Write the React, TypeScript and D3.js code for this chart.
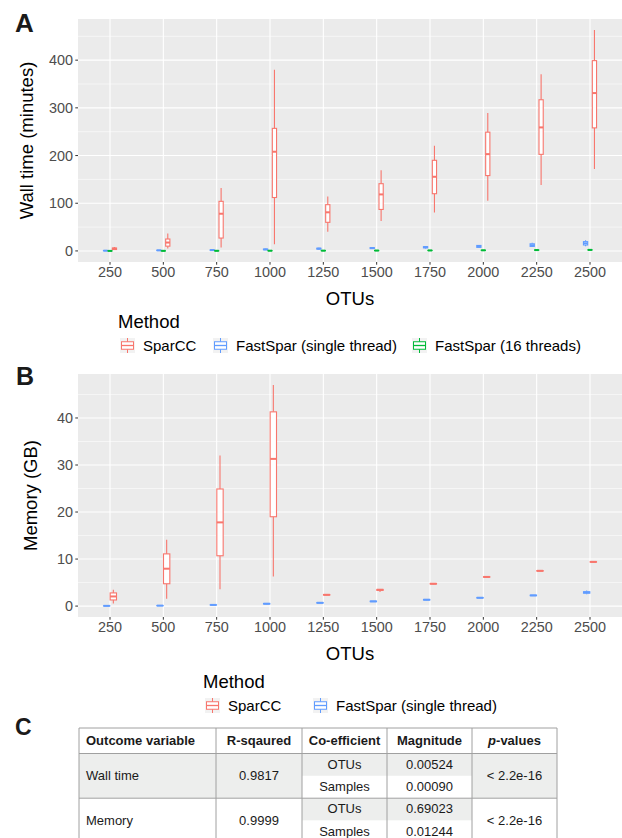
import * as d3 from "d3";

// categories on the x axis
const otus = ["250", "500", "750", "1000", "1250", "1500", "1750", "2000", "2250", "2500"];

// five-number summaries per OTU count: [lower whisker, q1, median, q3, upper whisker]
const timeSparCC = [
  [2, 3, 5, 6, 8],
  [5, 10, 17.6, 25, 36.5],
  [7, 27, 78, 104, 132],
  [14, 112, 208, 257, 380],
  [40, 60, 81, 97, 114],
  [63, 87, 118.5, 141, 169],
  [80.7, 120, 155.5, 190, 220.6],
  [105, 158, 203, 249, 289],
  [138, 202.5, 259, 317, 370.6],
  [172, 258, 331, 399, 463],
];
const timeFastSparSingle = [
  [0.2, 0.4, 0.6, 0.8, 1.0],
  [0.6, 0.9, 1.2, 1.5, 1.9],
  [1.0, 1.4, 1.8, 2.2, 2.7],
  [2.0, 2.6, 3.2, 3.8, 4.5],
  [3.0, 4.0, 4.8, 5.6, 6.5],
  [4.0, 5.0, 6.0, 7.0, 8.5],
  [5.0, 6.5, 7.8, 9.0, 10.5],
  [6.5, 7.5, 9.5, 11.5, 12.5],
  [8.0, 9.5, 12.0, 15.0, 17.0],
  [10.0, 12.5, 16.0, 19.5, 22.5],
];
const timeFastSpar16 = [
  [0.05, 0.08, 0.1, 0.12, 0.15],
  [0.1, 0.15, 0.2, 0.25, 0.3],
  [0.2, 0.25, 0.3, 0.35, 0.4],
  [0.35, 0.45, 0.5, 0.55, 0.65],
  [0.45, 0.55, 0.6, 0.7, 0.8],
  [0.6, 0.7, 0.8, 0.9, 1.0],
  [0.8, 0.9, 1.0, 1.1, 1.25],
  [1.0, 1.2, 1.3, 1.4, 1.6],
  [1.4, 1.6, 1.8, 2.0, 2.2],
  [1.8, 2.0, 2.2, 2.4, 2.7],
];
const memSparCC = [
  [0.55, 1.3, 2.05, 2.8, 3.5],
  [1.55, 4.75, 7.95, 11.1, 14.1],
  [3.6, 10.7, 17.8, 24.9, 32],
  [6.3, 19, 31.3, 41.3, 47],
  [2.3, 2.35, 2.4, 2.45, 2.5],
  [3.0, 3.35, 3.45, 3.55, 3.65],
  [4.65, 4.7, 4.75, 4.8, 4.85],
  [6.1, 6.15, 6.2, 6.25, 6.3],
  [7.4, 7.45, 7.5, 7.55, 7.6],
  [9.3, 9.35, 9.4, 9.45, 9.5],
];
const memFastSparSingle = [
  [0.03, 0.04, 0.05, 0.06, 0.07],
  [0.07, 0.09, 0.1, 0.11, 0.13],
  [0.2, 0.23, 0.25, 0.27, 0.3],
  [0.4, 0.45, 0.5, 0.55, 0.6],
  [0.6, 0.65, 0.7, 0.75, 0.8],
  [0.9, 0.95, 1.0, 1.05, 1.1],
  [1.25, 1.3, 1.35, 1.4, 1.45],
  [1.67, 1.72, 1.77, 1.82, 1.87],
  [2.17, 2.22, 2.27, 2.32, 2.37],
  [2.5, 2.75, 2.9, 3.05, 3.3],
];

const timeTicks = [0, 100, 200, 300, 400];
const timeMinor = [50, 150, 250, 350, 450];
const memTicks = [0, 10, 20, 30, 40];
const memMinor = [5, 15, 25, 35, 45];

const colors: Record<string, string> = {
  SparCC: "#F8766D",
  "FastSpar (single thread)": "#619CFF",
  "FastSpar (16 threads)": "#00BA38",
};

// table content
const tableHeader = ["Outcome variable", "R-sqaured", "Co-efficient", "Magnitude", "p-values"];
const outcomes = ["Wall time", "Memory"];
const rSquared = ["0.9817", "0.9999"];
const coefficients = ["OTUs", "Samples"];
const magnitudes = [
  ["0.00524", "0.00090"],
  ["0.69023", "0.01244"],
];
const pValues = ["< 2.2e-16", "< 2.2e-16"];

const FONT = "'Liberation Sans', Arial, Helvetica, sans-serif";
const PANEL_L = 78;
const PANEL_R = 622;

type Series = { name: string; data: number[][] };

function BoxPanel(props: {
  top: number;
  bottom: number;
  domain: [number, number];
  ticks: number[];
  minor: number[];
  series: Series[];
  yTitle: string;
  yTitleX: number;
}) {
  const { top, bottom, domain, ticks, minor, series, yTitle, yTitleX } = props;
  const x = d3.scalePoint<string>().domain(otus).range([PANEL_L, PANEL_R]).padding(0.6);
  const step = x.step();
  const dodge = d3
    .scaleBand<string>()
    .domain(series.map((s) => s.name))
    .range([-0.125 * step, 0.125 * step]);
  const y = d3.scaleLinear().domain(domain).range([bottom, top]);
  const bw = dodge.bandwidth() * 0.95;

  return (
    <g>
      <rect x={PANEL_L} y={top} width={PANEL_R - PANEL_L} height={bottom - top} fill="#EBEBEB" />
      {minor.map((t) => (
        <line key={"m" + t} x1={PANEL_L} x2={PANEL_R} y1={y(t)} y2={y(t)} stroke="#fff" strokeWidth={0.55} />
      ))}
      {ticks.map((t) => (
        <line key={"g" + t} x1={PANEL_L} x2={PANEL_R} y1={y(t)} y2={y(t)} stroke="#fff" strokeWidth={1.1} />
      ))}
      {otus.map((o) => (
        <line key={"v" + o} x1={x(o)} x2={x(o)} y1={top} y2={bottom} stroke="#fff" strokeWidth={1.1} />
      ))}
      {series.map((s) =>
        s.data.map((d, i) => {
          const cx = (x(otus[i]) as number) + (dodge(s.name) as number) + dodge.bandwidth() / 2;
          const c = colors[s.name];
          const [lo, q1, med, q3, hi] = d;
          return (
            <g key={s.name + i}>
              <line x1={cx} x2={cx} y1={y(hi)} y2={y(q3)} stroke={c} strokeWidth={1.1} />
              <line x1={cx} x2={cx} y1={y(q1)} y2={y(lo)} stroke={c} strokeWidth={1.1} />
              <rect
                x={cx - bw / 2}
                y={y(q3)}
                width={bw}
                height={Math.max(0.01, y(q1) - y(q3))}
                fill="#fff"
                stroke={c}
                strokeWidth={1.1}
              />
              <line x1={cx - bw / 2} x2={cx + bw / 2} y1={y(med)} y2={y(med)} stroke={c} strokeWidth={2} />
            </g>
          );
        })
      )}
      {ticks.map((t) => (
        <g key={"t" + t}>
          <line x1={PANEL_L - 2.7} x2={PANEL_L} y1={y(t)} y2={y(t)} stroke="#333" strokeWidth={1} />
          <text x={PANEL_L - 5} y={y(t)} dy="0.36em" textAnchor="end" fontSize={14.4} fill="#4D4D4D">
            {t}
          </text>
        </g>
      ))}
      {otus.map((o) => (
        <g key={"x" + o}>
          <line x1={x(o)} x2={x(o)} y1={bottom} y2={bottom + 2.7} stroke="#333" strokeWidth={1} />
          <text x={x(o)} y={bottom + 15} textAnchor="middle" fontSize={14.4} fill="#4D4D4D">
            {o}
          </text>
        </g>
      ))}
      <text x={(PANEL_L + PANEL_R) / 2} y={bottom + 43} textAnchor="middle" fontSize={18.5} fill="#000">
        OTUs
      </text>
      <text
        transform={`translate(${yTitleX},${(top + bottom) / 2}) rotate(-90)`}
        textAnchor="middle"
        fontSize={18.5}
        fill="#000"
      >
        {yTitle}
      </text>
    </g>
  );
}

function Legend(props: { x: number; y: number; items: string[]; gaps: number[] }) {
  const { x, y, items, gaps } = props;
  let cur = x + 2;
  return (
    <g>
      <text x={x} y={y} fontSize={18.5} fill="#000">
        Method
      </text>
      {items.map((name, i) => {
        const kx = cur;
        cur += gaps[i];
        const ky = y + 10;
        const c = colors[name];
        return (
          <g key={name}>
            <rect x={kx} y={ky} width={15} height={15} fill="#F2F2F2" />
            <line x1={kx + 7.5} x2={kx + 7.5} y1={ky} y2={ky + 15} stroke={c} strokeWidth={1} />
            <rect x={kx + 1.5} y={ky + 3.75} width={12} height={7.5} fill="#fff" stroke={c} strokeWidth={1} />
            <line x1={kx + 1.5} x2={kx + 13.5} y1={ky + 7.5} y2={ky + 7.5} stroke={c} strokeWidth={1.3} />
            <text x={kx + 23} y={ky + 12.5} fontSize={15} fill="#000">
              {name}
            </text>
          </g>
        );
      })}
    </g>
  );
}

function Table() {
  const cols = [79, 216, 302, 387, 472, 557];
  const top = 728;
  const headH = 25.5;
  const rowH = 44.7;
  const shade = "#EDEEED";
  const border = "#A0A0A0";
  const rows = outcomes.map((o, r) => {
    const ry = top + headH + r * rowH;
    const half = rowH / 2;
    const shadedMain = r === 0;
    return (
      <g key={o}>
        {[0, 1, 4].map((ci) => (
          <rect
            key={ci}
            x={cols[ci]}
            y={ry}
            width={cols[ci + 1] - cols[ci]}
            height={rowH}
            fill={shadedMain ? shade : "#fff"}
          />
        ))}
        <rect x={cols[2]} y={ry} width={cols[4] - cols[2]} height={half} fill={shade} />
        <rect x={cols[2]} y={ry + half} width={cols[4] - cols[2]} height={half} fill="#fff" />
        <text x={cols[0] + 7} y={ry + half + 4.5} fontSize={13}>
          {o}
        </text>
        <text x={(cols[1] + cols[2]) / 2} y={ry + half + 4.5} fontSize={13} textAnchor="middle">
          {rSquared[r]}
        </text>
        {coefficients.map((c, k) => (
          <g key={c}>
            <text x={(cols[2] + cols[3]) / 2} y={ry + half * k + 15} fontSize={13} textAnchor="middle">
              {c}
            </text>
            <text x={(cols[3] + cols[4]) / 2} y={ry + half * k + 15} fontSize={13} textAnchor="middle">
              {magnitudes[r][k]}
            </text>
          </g>
        ))}
        <text x={(cols[4] + cols[5]) / 2} y={ry + half + 4.5} fontSize={13} textAnchor="middle">
          {pValues[r]}
        </text>
        <line x1={cols[0]} x2={cols[5]} y1={ry} y2={ry} stroke={border} strokeWidth={1} />
      </g>
    );
  });
  const bottom = top + headH + 2 * rowH;
  return (
    <g fill="#1a1a1a">
      <rect x={cols[0]} y={top} width={cols[5] - cols[0]} height={headH} fill="#fff" />
      {rows}
      {tableHeader.map((h, i) => {
        const cx = i === 0 ? cols[0] + 7 : (cols[i] + cols[i + 1]) / 2;
        return (
          <text
            key={h}
            x={cx}
            y={top + 17}
            fontSize={13}
            fontWeight="bold"
            textAnchor={i === 0 ? "start" : "middle"}
          >
            {h === "p-values" ? (
              <>
                <tspan fontStyle="italic">p</tspan>-values
              </>
            ) : (
              h
            )}
          </text>
        );
      })}
      <line x1={cols[0]} x2={cols[5]} y1={top} y2={top} stroke={border} strokeWidth={1} />
      {cols.map((c) => (
        <line key={c} x1={c} x2={c} y1={top} y2={bottom} stroke={border} strokeWidth={1} />
      ))}
      <line x1={cols[0]} x2={cols[5]} y1={bottom} y2={bottom} stroke={border} strokeWidth={1} />
    </g>
  );
}

export default function App() {
  return (
    <div style={{ position: "absolute", left: 0, top: 0 }}>
      <svg width={622} height={838} style={{ display: "block", fontFamily: FONT }}>
        <rect width={622} height={838} fill="#fff" />
        <text x={15} y={32} fontSize={26} fontWeight="bold" fill="#1a1a1a">
          A
        </text>
        <BoxPanel
          top={19}
          bottom={262}
          domain={[-23.2, 486.3]}
          ticks={timeTicks}
          minor={timeMinor}
          series={[
            { name: "FastSpar (single thread)", data: timeFastSparSingle },
            { name: "FastSpar (16 threads)", data: timeFastSpar16 },
            { name: "SparCC", data: timeSparCC },
          ]}
          yTitle="Wall time (minutes)"
          yTitleX={33}
        />
        <Legend
          x={118}
          y={328}
          items={["SparCC", "FastSpar (single thread)", "FastSpar (16 threads)"]}
          gaps={[93, 199, 0]}
        />
        <text x={16} y={385} fontSize={25} fontWeight="bold" fill="#1a1a1a">
          B
        </text>
        <BoxPanel
          top={374}
          bottom={617}
          domain={[-2.32, 49.35]}
          ticks={memTicks}
          minor={memMinor}
          series={[
            { name: "FastSpar (single thread)", data: memFastSparSingle },
            { name: "SparCC", data: memSparCC },
          ]}
          yTitle="Memory (GB)"
          yTitleX={37}
        />
        <Legend x={203} y={688} items={["SparCC", "FastSpar (single thread)"]} gaps={[108, 0]} />
        <text x={15} y={735} fontSize={23} fontWeight="bold" fill="#1a1a1a">
          C
        </text>
        <Table />
      </svg>
    </div>
  );
}
